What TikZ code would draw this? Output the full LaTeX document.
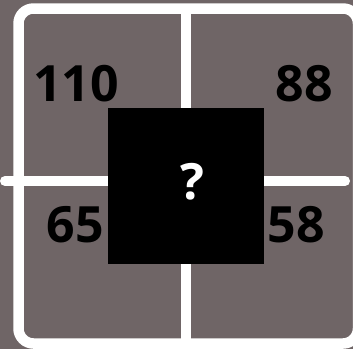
\documentclass[tikz,border=0pt]{standalone}
\usepackage{fontspec}
\setmainfont{Open Sans}
\usetikzlibrary{positioning}
\definecolor{boardbrown}{RGB}{111, 101, 102}

\tikzset{
    cellnum/.style={font=\fontsize{50}{60}\selectfont\bfseries, text=black, inner sep=0pt},
    gridline/.style={white, line width=10pt}
}

\begin{document}
\begin{tikzpicture}[x=1pt, y=-1pt]
    % Board
    \useasboundingbox (0,0) rectangle (353,349);
    \clip (0,0) rectangle (353,349);
    \fill[boardbrown] (0,0) rectangle (353,349);
    \draw[gridline, line width=10.5pt, rounded corners=15pt] (18.5,8.5) rectangle (358,343.5);
    \draw[gridline, line cap=round] (5,181) -- (345,181);
    \draw[gridline] (185.7,8.5) -- (185.7,343.5);
    
    % Numbers
    \foreach \x/\y/\num in {
        76/84/110,
        304.5/84/88,
        75.5/225/65,
        296/225/58
    } {
        \node[cellnum] (n\num) at (\x,\y) {\num};
    }
    
    % Hidden cell
    \node[fill=black, minimum size=156pt, inner sep=0pt] (hidden) at (186.2,186.2) {};
    \node[cellnum, text=white] (query) at ([xshift=6pt, yshift=4.7pt]hidden.center) {?};
\end{tikzpicture}
\end{document}
